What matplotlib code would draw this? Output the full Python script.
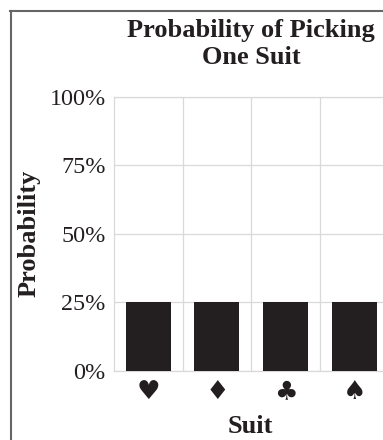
import matplotlib
matplotlib.use("Agg")
import matplotlib.pyplot as plt

suits = ["\u2665", "\u2666", "\u2663", "\u2660"]
probabilities = [25, 25, 25, 25]
y_ticks = [0, 25, 50, 75, 100]
y_labels = ["0%", "25%", "50%", "75%", "100%"]

W, H = 383, 440
INK = "#231f20"
GRID = "#d9d9d9"
plt.rcParams["font.family"] = ["Liberation Serif", "DejaVu Sans"]

fig = plt.figure(figsize=(W / 100, H / 100), dpi=100)

# outer panel border, open at the right and bottom edges of the page
fig.add_artist(plt.Line2D([10.5 / W, 10.5 / W], [0, 1 - 11 / H], color="#666666", lw=1.5,
                          transform=fig.transFigure))
fig.add_artist(plt.Line2D([10 / W, 1], [1 - 11 / H, 1 - 11 / H], color="#666666", lw=1.5,
                          transform=fig.transFigure))

left, right, top, bottom = 114, 388.5, 96.5, 370.5
ax = fig.add_axes([left / W, 1 - bottom / H, (right - left) / W, (bottom - top) / H])
positions = range(len(suits))
ax.bar(positions, probabilities, width=0.655, color=INK, zorder=3)
ax.set_xlim(-0.5, 3.5)
ax.set_ylim(0, 100)
ax.set_yticks(y_ticks, y_labels, fontsize=17.4, color=INK)
ax.set_xticks(list(positions), suits, fontsize=19, color=INK, family="DejaVu Sans")
ax.set_xticks([0.5, 1.5, 2.5], minor=True)
ax.grid(True, axis="y", color=GRID, lw=0.9, zorder=0)
ax.grid(True, which="minor", axis="x", color=GRID, lw=0.9, zorder=0)
ax.tick_params(axis="both", which="both", length=0)
ax.tick_params(axis="y", pad=6)
ax.tick_params(axis="x", pad=6)
for name, s in ax.spines.items():
    s.set_visible(name != "right")
    s.set_color(GRID)
    s.set_linewidth(0.9)

fig.text(251 / W, 1 - 44 / H, "Probability of Picking\nOne Suit", ha="center", va="center",
         fontsize=19, fontweight="bold", color=INK, linespacing=1.27)
fig.text(29 / W, 1 - 233.5 / H, "Probability", rotation=90, ha="center", va="center",
         fontsize=19, fontweight="bold", color=INK)
fig.text(250 / W, 1 - 426 / H, "Suit", ha="center", va="center",
         fontsize=19, fontweight="bold", color=INK)

fig.savefig("out.png", dpi=100)
